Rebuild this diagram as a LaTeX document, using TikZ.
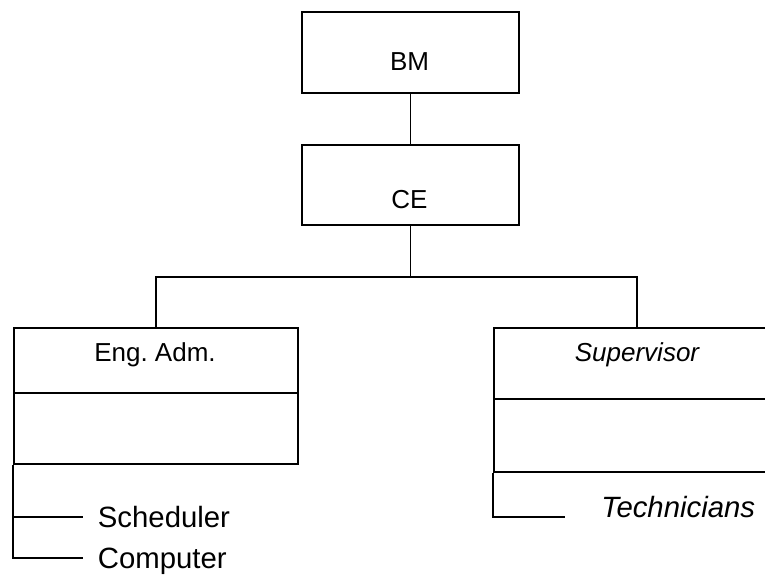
\documentclass[tikz,border=0pt]{standalone}
\usepackage{fontspec}
\setmainfont{Liberation Sans}
\usepackage{tikz}
\usetikzlibrary{calc,positioning}

\tikzset{
  box/.style={draw, line width=1.2pt, rectangle, inner sep=0pt, anchor=north west},
  boxtext/.style={inner sep=0pt, text depth=0pt, font=\fontsize{19.5}{23}\selectfont},
  sublabel/.style={inner ysep=0pt, inner xsep=11pt, text depth=0pt, anchor=west,
    font=\fontsize{22}{26}\selectfont},
  wire/.style={line width=1.2pt}
}

\begin{document}
\begin{tikzpicture}[x=0.75pt, y=-0.75pt]
        \path[use as bounding box, clip] (0,0) rectangle (765,575);
        % Top boxes
        \node[box, minimum width=162.75pt, minimum height=60.75pt] (bm) at (301,11) {};
        \node[box, minimum width=162.75pt, minimum height=60pt] (ce) at (301,144) {};
        \node[boxtext] (bmtext) at (409.5,62) {BM};
        \node[boxtext] (cetext) at (409.5,199.5) {CE};
        % Left branch
        \node[box, minimum width=213pt, minimum height=48.75pt] (eng) at (13,327) {};
        \node[box, minimum width=213pt, minimum height=53.25pt] (engsub) at (13,392) {};
        \node[boxtext] (engtext) at (155,352.5) {Eng.\ Adm.};
        % Right branch, cut off at the page edge
        \node[box, minimum width=245pt, minimum height=53.25pt] (sup) at (493,327) {};
        \node[box, minimum width=245pt, minimum height=54.75pt] (supsub) at (493,398) {};
        \node[boxtext] (suptext) at (637,352) {\itshape Supervisor};
        % Staff below
        \node[sublabel] (sched) at (83,517) {Scheduler};
        \node[sublabel] (comp) at (83,558) {Computer};
        \node[sublabel, anchor=base west, inner xsep=0pt] (tech) at (601,517) {\itshape Technicians};
        \coordinate (split) at (ce.south |- 0,277);
        \coordinate (supdrop) at (637,327);
        \coordinate (techend) at (565,517);
        % Connectors
        \draw[wire] (bm.south) -- (ce.north);
        \draw[wire] (ce.south) -- (split);
        \draw[wire] (eng.north) |- (split) -| (supdrop);
        \draw[wire] (engsub.south west) |- (sched.west);
        \draw[wire] (engsub.south west) |- (comp.west);
        \draw[wire] (supsub.south west) |- (techend);
      \end{tikzpicture}
\end{document}
